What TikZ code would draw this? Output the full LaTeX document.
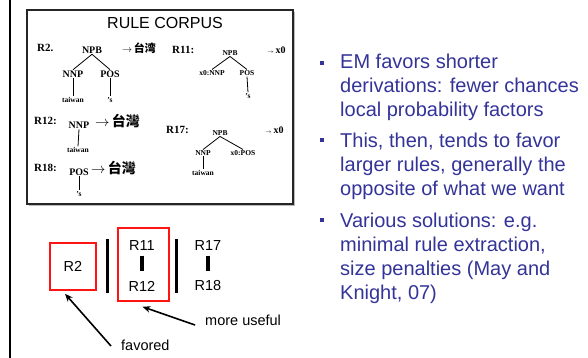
\documentclass[tikz,border=0pt]{standalone}
\usepackage{fontspec}
\setmainfont{Liberation Serif}
\setsansfont{Liberation Sans}
\newfontfamily\cjk{Noto Sans CJK SC}
\usetikzlibrary{arrows.meta}
\definecolor{bulletblue}{RGB}{51,51,153}
\definecolor{boxred}{RGB}{255,20,20}
\begin{document}
\begin{tikzpicture}[x=1pt,y=-1pt,
  tn/.style={font=\bfseries\fontsize{10}{10}\selectfont, inner sep=0.8pt},
  tns/.style={font=\bfseries\fontsize{7.5}{7.5}\selectfont, inner sep=0.8pt},
  leaf/.style={font=\bfseries\fontsize{7.5}{7.5}\selectfont, inner sep=0.8pt},
  rlabel/.style={font=\bfseries\fontsize{11}{11}\selectfont, inner sep=0, anchor=west},
  rhs/.style={font=\bfseries\fontsize{10}{10}\selectfont, inner sep=0, anchor=west},
  rhsx/.style={font=\bfseries\fontsize{10}{10}\selectfont, inner sep=0, anchor=west},
  rhsbig/.style={font=\bfseries\fontsize{14}{14}\selectfont, inner sep=0, anchor=west},
  treeline/.style={line width=0.8pt},
  bullettext/.style={font=\sffamily\fontsize{20}{24}\selectfont, text=bulletblue, align=left, inner sep=0, anchor=north west},
  bsq/.style={fill=bulletblue, inner sep=0, minimum size=4.5pt},
  lbl/.style={font=\sffamily\fontsize{14.5}{14.5}\selectfont, inner sep=0},
  redbox/.style={draw=boxred, line width=1.5pt, inner sep=0},
  bar/.style={line width=3pt},
  sbar/.style={line width=4pt},
  ptr/.style={line width=1.6pt, -{Stealth[length=8pt,width=6.5pt]}}
]
\useasboundingbox (0,0) rectangle (588,358);
% left margin line
\draw[line width=2pt] (10,0) -- (10,358);
% rule corpus box
\draw[gray!55, line width=1pt] (29,205.3) -- (294.3,205.3) -- (294.3,12);
\draw[line width=1.3pt, draw=black!85] (27,10) rectangle (293,204);
\node[font=\sffamily\fontsize{16}{16}\selectfont, inner sep=0] (title) at (165,23) {RULE CORPUS};

% R2
\node[rlabel] (r2lab) at (37,48) {R2.};
\node[tn] (r2npb) at (92,50) {NPB};
\node[tn] (r2nnp) at (73,74) {NNP};
\node[tn] (r2pos) at (110,74) {POS};
\node[leaf] (r2tw) at (73,100) {taiwan};
\node[leaf] (r2s) at (110,100) {'s};
\node[rhs] (r2rhs) at (122,48) {$\rightarrow$\,{\cjk\bfseries\fontsize{11}{11}\selectfont 台湾}};
\draw[treeline] (r2npb.south) -- (r2nnp.north);
\draw[treeline] (r2npb.south) -- (r2pos.north);
\draw[treeline] (r2nnp.south) -- (r2tw.north);
\draw[treeline] (r2pos.south) -- (r2s.north);

% R11
\node[rlabel] (r11lab) at (172,50) {R11:};
\node[tns] (r11npb) at (230,53) {NPB};
\node[tns] (r11nnp) at (212,73) {x0:NNP};
\node[tns] (r11pos) at (247,73) {POS};
\node[leaf] (r11s) at (248,96) {'s};
\node[rhsx] (r11rhs) at (267,50) {{\fontsize{4}{4}\selectfont$\rightarrow$}\,x0};
\draw[treeline] (r11npb.south) -- (r11nnp.north);
\draw[treeline] (r11npb.south) -- (r11pos.north);
\draw[treeline] (r11pos.south) -- (r11s.north);

% R12
\node[rlabel] (r12lab) at (34,121) {R12:};
\node[tn] (r12nnp) at (79,125) {NNP};
\node[leaf] (r12tw) at (78,150) {taiwan};
\node[rhsbig] (r12rhs) at (95,121) {$\rightarrow$\,{\cjk\bfseries 台灣}};
\draw[treeline] (r12nnp.south) -- (r12tw.north);

% R17
\node[rlabel] (r17lab) at (166,130) {R17:};
\node[tns] (r17npb) at (220,133) {NPB};
\node[tns] (r17nnp) at (203,153) {NNP};
\node[tns] (r17pos) at (243,153) {x0:POS};
\node[leaf] (r17tw) at (203,173) {taiwan};
\node[rhsx] (r17rhs) at (265,130) {{\fontsize{4}{4}\selectfont$\rightarrow$}\,x0};
\draw[treeline] (r17npb.south) -- (r17nnp.north);
\draw[treeline] (r17npb.south) -- (r17pos.north);
\draw[treeline] (r17nnp.south) -- (r17tw.north);

% R18
\node[rlabel] (r18lab) at (34,168) {R18:};
\node[tn] (r18pos) at (79,172) {POS};
\node[leaf] (r18s) at (79,194) {'s};
\node[rhsbig] (r18rhs) at (91,168) {$\rightarrow$\,{\cjk\bfseries 台灣}};
\draw[treeline] (r18pos.south) -- (r18s.north);

% bottom left comparison
\node[redbox, lbl, minimum width=46pt, minimum height=47pt] (r2) at (73,266.5) {R2};
\node[redbox, minimum width=51pt, minimum height=73pt] (g2) at (143.5,264.5) {};
\node[lbl] (r11) at (142,246) {R11};
\node[lbl] (r12) at (142,286) {R12};
\node[lbl] (r17) at (208,246) {R17};
\node[lbl] (r18) at (208,286) {R18};
\draw[bar] (107,239) -- (107,293);
\draw[bar] (176,239) -- (176,293);
\draw[sbar] (r11.south) ++(0,-4.5pt) -- ++(0,-15pt);
\draw[sbar] (r17.south) ++(0,-4.5pt) -- ++(0,-15pt);
\node[lbl, anchor=west] (fav) at (121,345) {favored};
\node[lbl, anchor=west] (mu) at (205,320) {more useful};
\draw[ptr] ([xshift=-10pt,yshift=-1pt]fav.west) -- ([xshift=-8pt,yshift=-3pt]r2.south);
\draw[ptr] ([xshift=-10pt,yshift=-5pt]mu.west) -- ([xshift=-1pt,yshift=-5pt]g2.south);

% bullets
\node[bsq] (s1) at (322,63) {};
\node[bsq] (s2) at (322,140) {};
\node[bsq] (s3) at (322,220) {};
\node[bullettext] (b1) at (340,53.5) {EM favors shorter\\derivations: fewer chances\\local probability factors};
\node[bullettext] (b2) at (340,132.5) {This, then, tends to favor\\larger rules, generally the\\opposite of what we want};
\node[bullettext] (b3) at (340,212.5) {Various solutions: e.g.\\minimal rule extraction,\\size penalties (May and\\Knight, 07)};
\end{tikzpicture}
\end{document}
